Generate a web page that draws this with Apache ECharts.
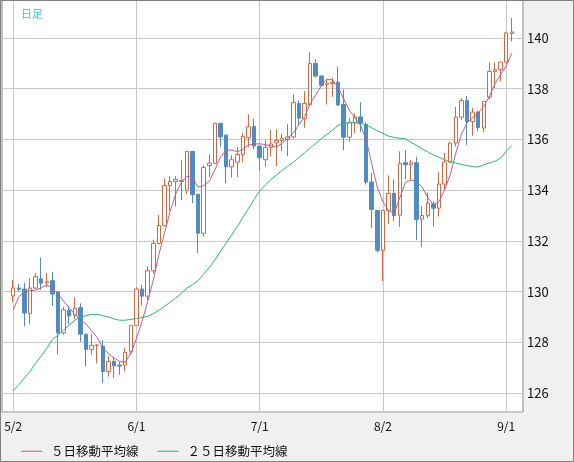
<!DOCTYPE html>
<html>
<head>
<meta charset="utf-8">
<script src="https://cdn.jsdelivr.net/npm/echarts/dist/echarts.min.js"></script>
<style>
html,body{margin:0;padding:0;background:#f0f0f0;}
#main{width:574px;height:462px;}
</style>
</head>
<body>
<div id="main"></div>
<script>
// 営業日 (2022/5/2 - 9/2)
var dates = [
  '5/2','5/3','5/4','5/5','5/6','5/9','5/10','5/11','5/12','5/13','5/16','5/17','5/18','5/19','5/20','5/23','5/24','5/25','5/26','5/27','5/30','5/31',
  '6/1','6/2','6/3','6/6','6/7','6/8','6/9','6/10','6/13','6/14','6/15','6/16','6/17','6/20','6/21','6/22','6/23','6/24','6/27','6/28','6/29','6/30',
  '7/1','7/4','7/5','7/6','7/7','7/8','7/11','7/12','7/13','7/14','7/15','7/18','7/19','7/20','7/21','7/22','7/25','7/26','7/27','7/28','7/29',
  '8/1','8/2','8/3','8/4','8/5','8/8','8/9','8/10','8/11','8/12','8/15','8/16','8/17','8/18','8/19','8/22','8/23','8/24','8/25','8/26','8/29','8/30','8/31',
  '9/1','9/2'
];
var tickLabels = ['5/2','6/1','7/1','8/2','9/1'];

var opens = [
  129.83,130.14,130.10,129.13,130.14,130.51,130.34,130.43,129.99,128.37,129.26,129.05,129.36,128.32,127.72,127.87,127.85,126.85,127.25,127.10,127.10,127.63,
  128.67,130.10,129.82,130.82,131.90,132.61,134.18,134.34,134.34,134.00,135.53,133.84,132.30,134.97,135.06,136.63,136.17,134.92,135.10,135.41,136.07,136.52,
  135.74,135.20,135.69,135.87,135.96,136.00,136.10,137.42,136.82,137.38,139.00,138.50,138.17,138.20,138.26,137.38,136.09,136.66,136.89,136.59,134.32,
  133.20,131.63,133.20,133.87,133.01,135.08,135.00,135.08,132.86,133.00,133.45,133.29,134.24,135.11,135.86,136.88,137.53,136.71,137.08,136.45,137.67,138.68,138.75,
  139.05,140.18
];
var closes = [
  130.14,130.09,129.15,130.14,130.59,130.33,130.39,129.90,128.37,129.28,129.04,129.34,128.32,127.72,127.88,127.89,126.85,127.25,127.07,127.06,127.60,128.67,
  130.10,129.82,130.82,131.90,132.61,134.18,134.34,134.42,134.39,135.53,133.82,132.30,134.89,135.06,136.63,136.10,134.92,135.20,135.41,136.12,136.50,135.74,
  135.28,135.69,135.82,135.96,136.04,136.10,137.45,136.84,137.42,139.00,138.50,138.13,138.22,138.25,137.36,136.09,136.66,136.89,136.66,134.32,133.24,
  131.63,133.20,133.87,133.00,135.05,135.00,135.08,132.84,133.00,133.49,133.29,134.24,135.11,135.86,136.88,137.53,136.71,137.08,136.47,137.50,138.68,138.75,139.05,
  140.20,140.24
];
var lows = [
  129.58,130.00,128.63,128.71,130.10,130.07,130.17,129.43,127.52,128.30,128.71,128.92,128.02,127.04,127.51,127.17,126.39,126.65,126.59,126.72,126.85,127.52,
  128.65,129.45,129.65,130.70,131.85,132.56,133.19,133.35,133.60,133.84,133.48,131.52,132.17,134.52,135.05,135.71,134.26,134.50,134.52,135.10,135.71,135.60,
  134.76,134.92,135.33,134.95,135.54,135.34,136.03,136.53,136.46,137.32,138.45,138.10,137.38,137.68,137.32,135.58,135.91,136.26,136.29,134.22,132.51,
  131.55,130.41,132.66,132.78,132.55,134.42,134.40,132.03,131.75,132.90,132.57,132.96,134.01,135.07,135.72,136.78,135.79,136.14,136.32,136.28,137.57,138.03,138.29,
  139.01,139.87
];
var highs = [
  130.46,130.30,130.34,130.53,130.74,131.34,130.74,130.78,130.01,129.40,129.44,129.75,129.54,128.32,128.32,127.93,128.08,127.46,127.43,127.26,127.78,128.67,
  130.17,130.26,131.00,132.05,133.02,134.47,134.55,134.55,135.18,135.53,135.53,133.84,134.98,135.41,136.67,136.67,136.20,135.37,135.70,136.25,136.99,136.81,
  135.74,135.97,136.37,136.39,136.22,136.60,137.78,137.54,137.91,139.45,139.16,138.53,138.39,138.43,138.87,137.97,136.84,137.03,137.47,136.66,134.68,
  133.20,133.20,134.58,134.42,135.53,135.58,135.20,135.32,133.36,133.91,133.55,134.70,135.46,135.92,137.28,137.63,137.72,137.24,137.13,137.50,139.04,139.05,139.05,
  140.24,140.79
];
var ma5 = [
  129.28,129.80,129.98,130.03,130.06,130.15,130.27,130.12,129.90,129.62,129.36,129.10,128.90,128.72,128.45,128.19,127.78,127.55,127.38,127.24,127.22,127.55,
  128.15,128.82,129.60,130.45,131.45,132.30,133.15,133.85,134.30,134.55,134.50,134.12,134.18,134.35,134.80,135.30,135.58,135.58,135.52,135.60,135.78,135.82,
  135.83,135.80,135.75,135.70,135.85,136.05,136.25,136.58,136.90,137.40,137.75,138.12,138.38,138.35,138.05,137.60,137.15,136.85,136.55,136.00,135.05,
  134.10,133.55,133.20,133.10,133.70,134.30,134.40,134.34,134.12,133.70,133.42,133.55,134.00,134.60,135.45,136.20,136.65,136.85,137.05,137.30,137.70,138.20,138.55,
  138.90,139.40
];
var ma25 = [
  126.09,126.33,126.59,126.85,127.17,127.46,127.76,128.11,128.28,128.48,128.67,128.87,129.00,129.05,129.10,129.10,129.05,129.00,128.92,128.87,128.87,128.90,
  128.94,128.98,129.02,129.13,129.26,129.41,129.58,129.74,129.93,130.14,130.27,130.43,130.68,130.95,131.25,131.58,131.91,132.24,132.56,132.93,133.28,133.63,
  133.97,134.20,134.42,134.60,134.78,134.95,135.10,135.28,135.47,135.67,135.84,136.03,136.20,136.37,136.55,136.63,136.66,136.66,136.63,136.58,136.46,
  136.34,136.24,136.13,136.08,136.05,136.03,135.88,135.77,135.62,135.51,135.39,135.30,135.20,135.12,135.07,135.01,134.97,134.93,134.91,135.00,135.07,135.14,135.26,
  135.53,135.76
];

var PAD = 2; //左の余白（日数）
var cats = ['p0','p1'].concat(dates).concat(['p2','p3']);
var FONT = 'Noto Sans CJK JP';

var candle = [], line5 = [], line25 = [];
for (var i = 0; i < dates.length; i++) {
    candle.push([i + PAD, opens[i], closes[i], lows[i], highs[i]]);
    line5.push([i + PAD, ma5[i]]);
    line25.push([i + PAD, ma25[i]]);
}
function isTick(index, value) {
    return tickLabels.indexOf(value) >= 0;
}

var myChart = echarts.init(document.getElementById('main'));
myChart.setOption({
    animation: false,
    backgroundColor: '#f0f0f0',
    title: {
        text: '日足', left: 16, top: 3,
        textStyle: {fontSize: 11, fontWeight: 'normal', color: '#3dbfef', fontFamily: FONT}
    },
    graphic: [{
        type: 'rect', z: 100, silent: true,
        shape: {x: 0.5, y: 0.5, width: 573, height: 461},
        style: {fill: 'none', stroke: '#808080', lineWidth: 1}
    }],
    legend: {
        data: ['５日移動平均線', '２５日移動平均線'],
        left: 16, top: 440, icon: 'rect', itemWidth: 21, itemHeight: 1, itemGap: 19,
        textStyle: {fontSize: 12.5, color: '#111', fontFamily: FONT, padding: [0, 0, 0, 4]}
    },
    grid: {
        left: 2, top: 0, width: 521, height: 412, show: true,
        backgroundColor: '#fff', borderColor: '#8a8a8a', borderWidth: 1
    },
    xAxis: {
        type: 'category', data: cats, boundaryGap: false,
        axisLine: {show: false}, axisTick: {show: false},
        axisLabel: {interval: isTick, color: '#111', fontSize: 12, margin: 8, fontFamily: FONT},
        splitLine: {show: true, interval: isTick, lineStyle: {color: '#c8c8c8'}}
    },
    yAxis: {
        type: 'value', position: 'right', min: 125.25, max: 141.5, splitNumber: 8,
        axisLine: {show: false}, axisTick: {show: false},
        axisLabel: {color: '#111', fontSize: 13, margin: 4, fontFamily: FONT, showMinLabel: false, showMaxLabel: false},
        splitLine: {lineStyle: {color: '#c8c8c8'}}
    },
    series: [
        {
            type: 'candlestick', data: candle, encode: {x: 0, y: [1, 2, 3, 4]}, barWidth: 4,
            itemStyle: {color: '#ffffff', color0: '#4e8cc2', borderColor: '#d8653e', borderColor0: '#4e8cc2', borderWidth: 1}
        },
        {
            name: '５日移動平均線', type: 'line', data: line5, symbol: 'none', z: 3,
            lineStyle: {width: 1, color: '#b5628e'}, itemStyle: {color: '#b5628e'}
        },
        {
            name: '２５日移動平均線', type: 'line', data: line25, symbol: 'none', z: 3,
            lineStyle: {width: 1, color: '#2bb575'}, itemStyle: {color: '#2bb575'}
        }
    ]
});
</script>
</body>
</html>
